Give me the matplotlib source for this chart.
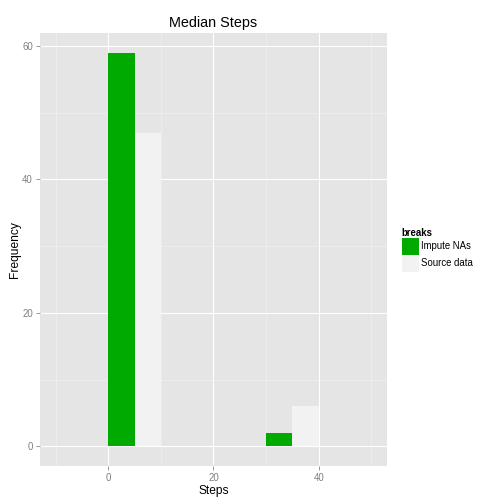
import matplotlib
matplotlib.use("Agg")
import matplotlib.pyplot as plt
from matplotlib.patches import Patch
import numpy as np

plt.rcParams['font.family'] = ['Liberation Sans', 'DejaVu Sans']

bin_left = [-10, 0, 10, 20, 30, 40]
impute_counts = [0, 59, 0, 0, 2, 0]
source_counts = [0, 47, 0, 0, 6, 0]
series_names = ["Impute NAs", "Source data"]
colors = ["#00AA00", "#F2F2F2"]
binwidth = 10

fig = plt.figure(figsize=(7, 7), dpi=72)
W = H = 504
ax = fig.add_axes([40 / W, 1 - 466 / H, (387 - 40) / W, (466 - 33) / H])
ax.set_facecolor("#E5E5E5")

bl = np.array(bin_left, dtype=float)
for i, (counts, c) in enumerate(zip([impute_counts, source_counts], colors)):
    cnt = np.array(counts, dtype=float)
    mask = cnt > 0
    ax.bar(bl[mask] + i * binwidth / 2, cnt[mask], width=binwidth / 2, align='edge',
           color=c, linewidth=0, zorder=3)

ax.set_xlim(-13, 53)
ax.set_ylim(-2.95, 61.95)
ax.set_xticks([0, 20, 40])
ax.set_yticks([0, 20, 40, 60])
ax.set_xticks([-10, 10, 30, 50], minor=True)
ax.set_yticks([10, 30, 50], minor=True)
ax.grid(which='major', color='white', linewidth=1.1, zorder=1)
ax.grid(which='minor', color='#F2F2F2', linewidth=0.6, zorder=1)
ax.set_axisbelow(True)
for s in ax.spines.values():
    s.set_visible(False)
ax.tick_params(which='major', length=4, width=0.8, color='#7F7F7F', labelcolor='#7F7F7F', labelsize=9.6, pad=3)
ax.tick_params(which='minor', length=0)

ax.set_xlabel("Steps", fontsize=12, labelpad=2)
ax.set_ylabel("Frequency", fontsize=12, labelpad=1)
ax.set_title("Median Steps", fontsize=14.4, pad=6)

handles = [Patch(facecolor=c, edgecolor='none') for c in colors]
leg = fig.legend(handles, series_names, title="breaks", loc='upper left',
                 bbox_to_anchor=(399 / W, 1 - 225 / H), frameon=False,
                 fontsize=9.6, title_fontsize=9.6, handlelength=1.77, handleheight=2.35,
                 handletextpad=0.2, labelspacing=0.0, borderaxespad=0, borderpad=0.3)
leg.get_title().set_fontweight('bold')
leg._legend_box.align = "left"

fig.savefig("out.png", dpi=72)
